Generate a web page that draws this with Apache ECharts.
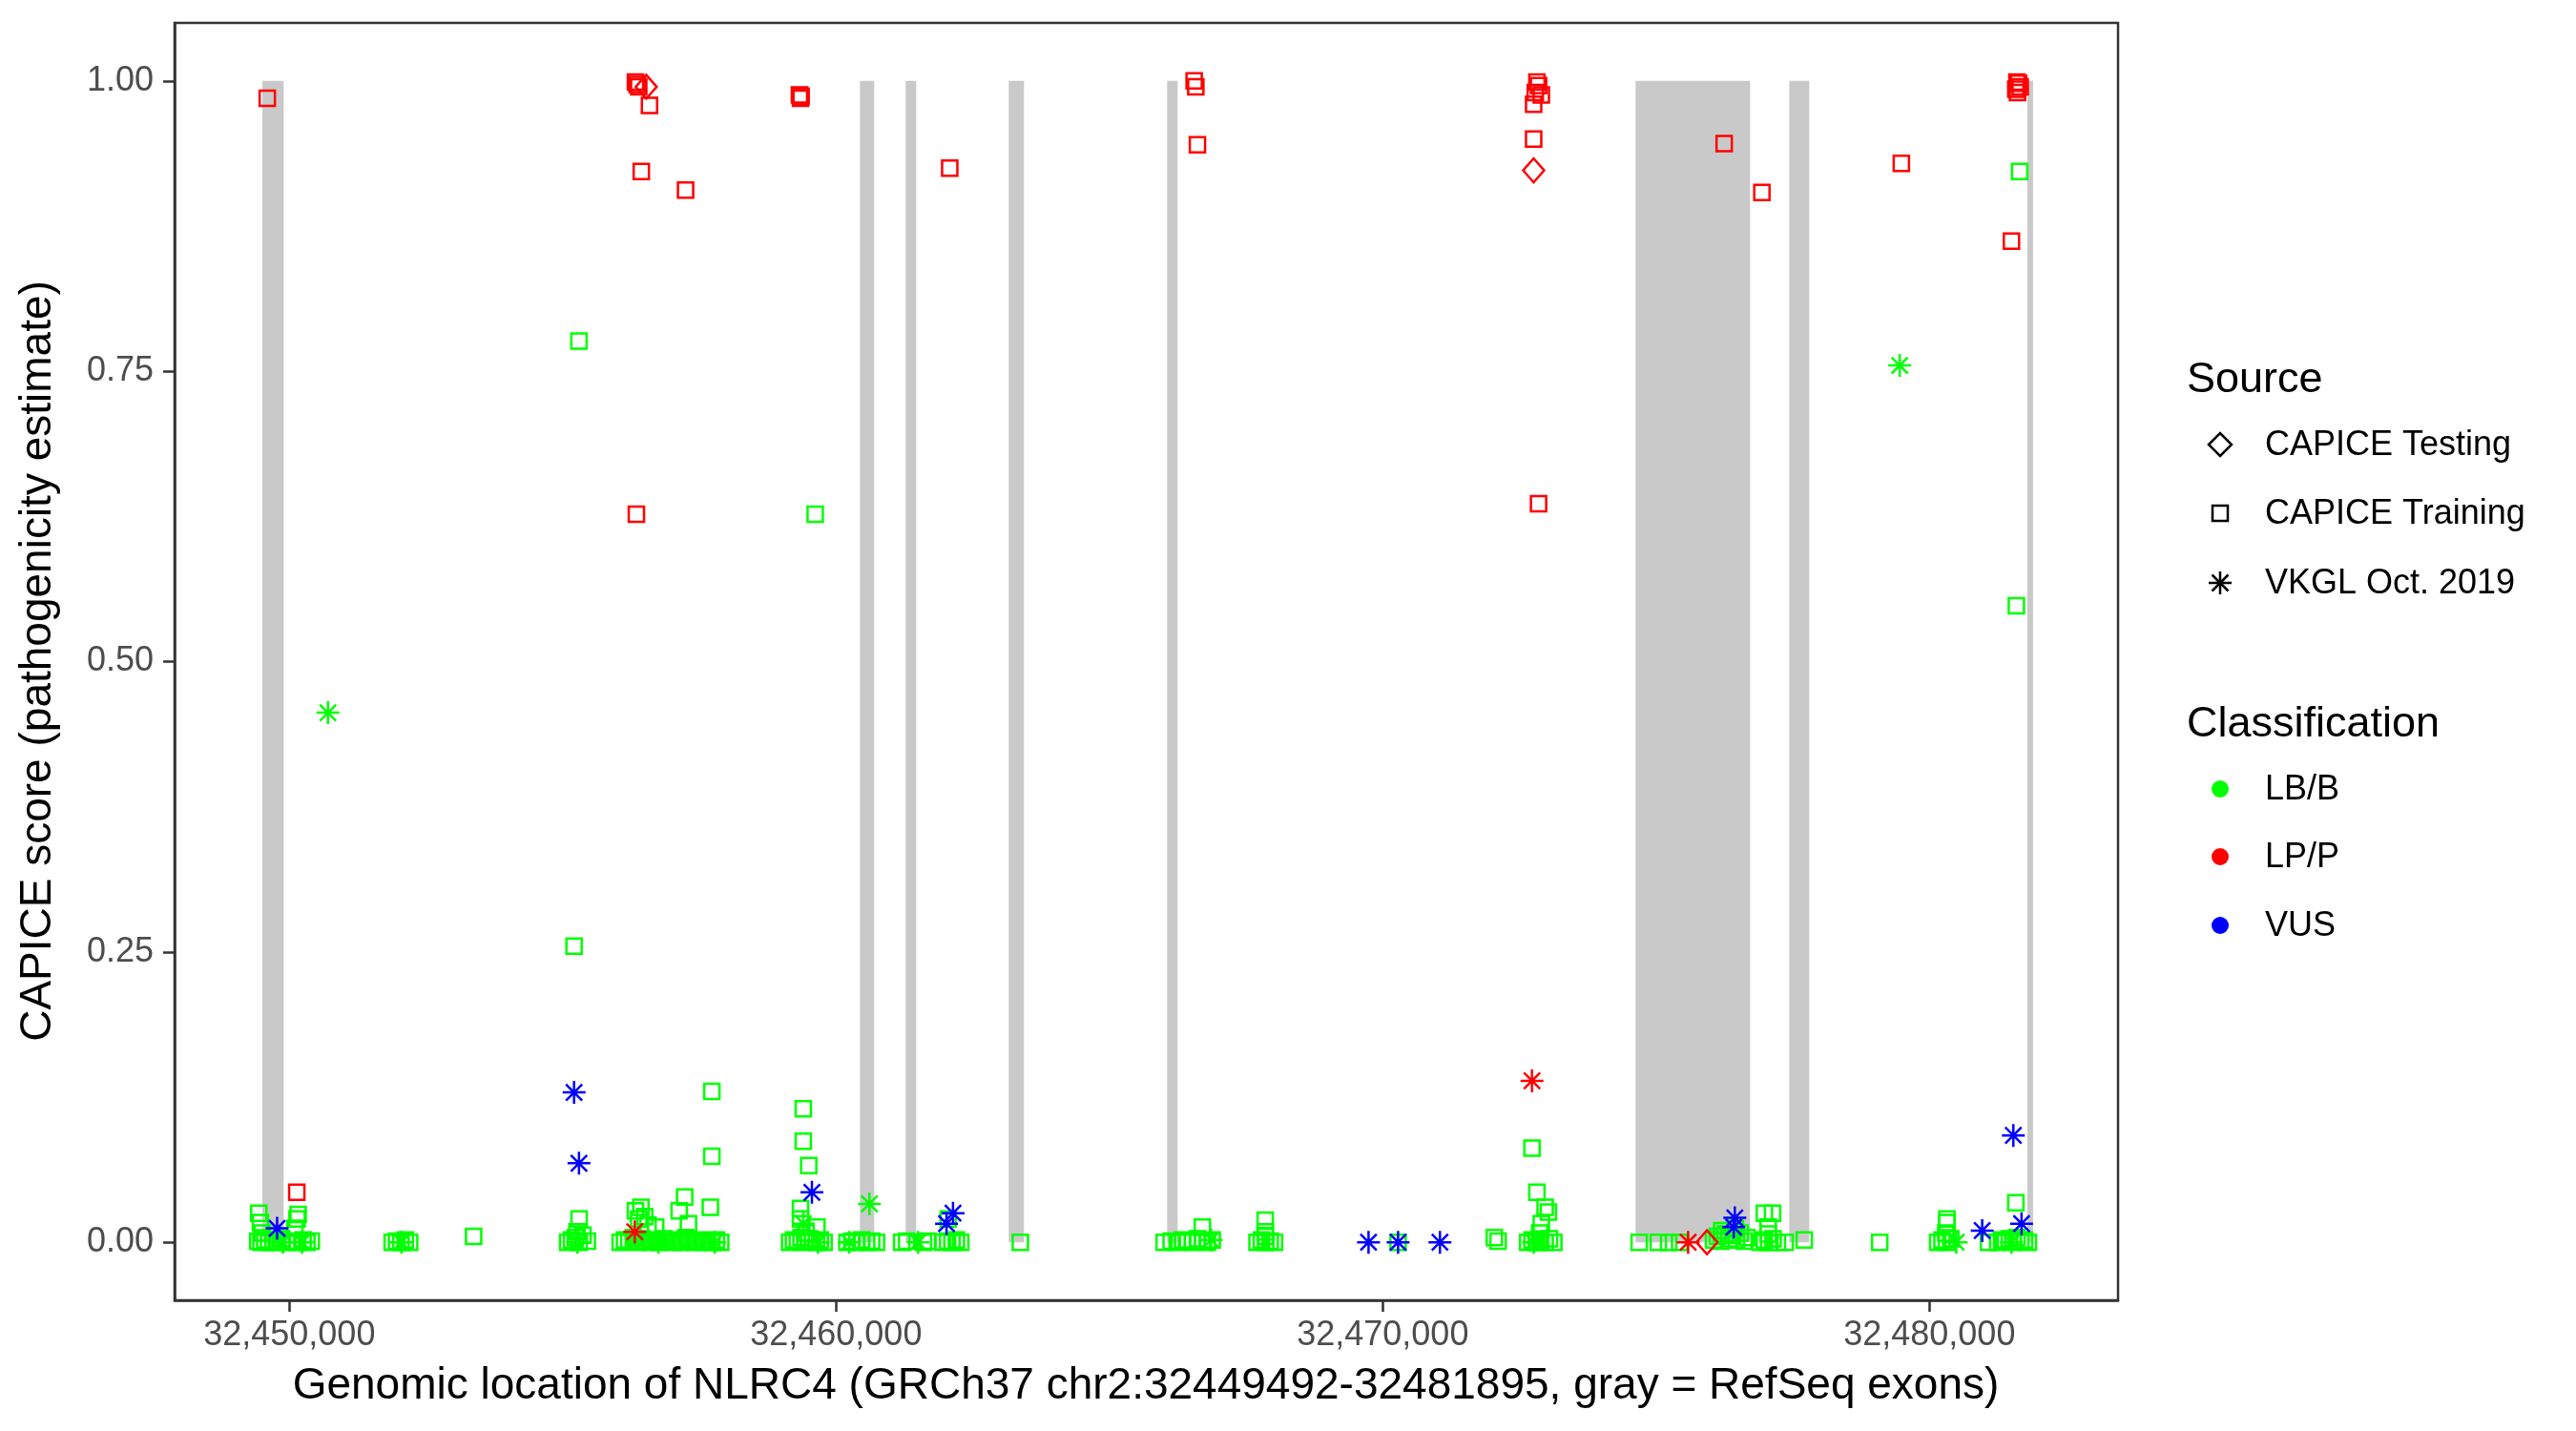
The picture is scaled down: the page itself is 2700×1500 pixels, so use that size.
<!DOCTYPE html>
<html>
<head>
<meta charset="utf-8">
<script src="https://cdn.jsdelivr.net/npm/echarts@6/dist/echarts.min.js"></script>
<style>html,body{margin:0;padding:0;background:#fff}#c{width:2700px;height:1500px}</style>
</head>
<body>
<div id="c"></div>
<script>
// ---- data ----
const xTicks = [32450000, 32460000, 32470000, 32480000];
const yTicks = [0, 0.25, 0.5, 0.75, 1];
const exonStarts = [32449505, 32460436, 32461274, 32463159, 32466056, 32474625, 32477435, 32481790];
const exonEnds   = [32449895, 32460698, 32461466, 32463438, 32466248, 32476719, 32477801, 32481895];

const trainingLB = [
[32449420,0.001],[32449480,0.000],[32449550,0.002],[32449620,0.000],[32449700,0.001],[32449780,0.000],[32449860,0.003],[32449950,0.000],[32450050,0.001],[32450150,0.000],[32450250,0.002],[32450320,0.000],[32450400,0.001],
[32449440,0.025],[32449470,0.017],[32449500,0.008],[32450140,0.020],[32450160,0.024],[32450100,0.012],
[32451880,0.000],[32451960,0.001],[32452040,0.000],[32452120,0.002],[32452200,0.000],
[32453370,0.005],
[32455090,0.000],[32455160,0.002],[32455230,0.004],[32455300,0.000],[32455370,0.006],[32455450,0.001],[32455300,0.020],[32455260,0.009],
[32455297,0.776],[32455207,0.255],
[32456050,0.000],[32456130,0.002],[32456210,0.001],[32456290,0.004],[32456370,0.000],[32456450,0.003],[32456530,0.001],[32456610,0.000],[32456690,0.002],[32456770,0.000],[32456850,0.003],[32456930,0.001],[32457010,0.000],[32457090,0.002],[32457170,0.000],[32457250,0.004],[32457330,0.001],[32457410,0.000],[32457490,0.002],[32457570,0.000],[32457650,0.001],[32457730,0.000],[32457810,0.002],[32457890,0.000],
[32456330,0.027],[32456430,0.030],[32456500,0.022],[32456560,0.015],[32456700,0.013],[32457230,0.039],[32457130,0.027],[32457300,0.016],[32457700,0.030],[32457727,0.074],[32457727,0.130],[32456390,0.020],
[32459150,0.000],[32459220,0.002],[32459290,0.001],[32459360,0.004],[32459430,0.000],[32459500,0.003],[32459570,0.001],[32459640,0.000],[32459710,0.002],[32459780,0.000],
[32459400,0.115],[32459400,0.087],[32459500,0.066],[32459350,0.029],[32459350,0.020],[32459650,0.013],[32459450,0.008],[32459618,0.627],
[32460200,0.000],[32460290,0.001],[32460380,0.000],[32460470,0.002],[32460560,0.000],[32460650,0.001],[32460740,0.000],
[32461200,0.000],[32461290,0.001],[32461600,0.000],[32461680,0.001],
[32461950,0.000],[32462040,0.001],[32462120,0.000],[32462200,0.002],[32462280,0.000],[32462050,0.020],
[32463370,0.000],
[32466000,0.000],[32466130,0.001],[32466240,0.000],[32466340,0.002],[32466430,0.001],[32466520,0.000],[32466610,0.003],[32466700,0.001],[32466790,0.000],[32466880,0.002],[32466700,0.013],
[32467700,0.000],[32467780,0.002],[32467860,0.000],[32467940,0.001],[32468020,0.000],[32467850,0.019],[32467850,0.009],[32467850,0.005],
[32470280,0.000],
[32472040,0.004],[32472110,0.001],
[32472650,0.000],[32472730,0.002],[32472810,0.000],[32472890,0.001],[32472970,0.000],[32473050,0.003],[32473130,0.000],[32472730,0.081],[32472820,0.043],[32472970,0.030],[32473030,0.026],[32472900,0.016],[32472870,0.008],
[32474690,0.000],[32475040,0.000],[32475230,0.000],[32475430,0.000],
[32476050,0.002],[32476120,0.005],[32476190,0.001],[32476260,0.007],[32476330,0.003],[32476400,0.006],[32476470,0.002],[32476540,0.008],[32476610,0.001],[32476660,0.004],[32476200,0.010],[32476450,0.012],
[32476900,0.000],[32476980,0.002],[32477060,0.000],[32477140,0.003],[32477220,0.000],[32476980,0.025],[32477130,0.025],[32477050,0.013],[32477050,0.007],
[32477360,0.000],[32477710,0.002],[32479090,0.000],
[32480150,0.000],[32480230,0.002],[32480310,0.000],[32480390,0.003],[32480320,0.017],[32480320,0.020],[32480300,0.008],
[32481080,0.000],
[32481250,0.000],[32481320,0.002],[32481390,0.001],[32481460,0.003],[32481530,0.000],[32481600,0.004],[32481670,0.001],[32481740,0.002],[32481810,0.000],[32481580,0.034],[32481650,0.922],[32481590,0.548]
];
const trainingLP = [
[32449595,0.985],[32456330,0.999],[32456360,0.997],[32456390,0.995],[32456587,0.979],[32456437,0.922],[32457247,0.906],[32456347,0.627],
[32459330,0.988],[32459360,0.987],[32459350,0.985],[32462079,0.925],[32466550,1.000],[32466580,0.995],[32466610,0.945],
[32472820,0.999],[32472850,0.996],[32472790,0.990],[32472900,0.988],[32472760,0.980],[32472760,0.950],[32472850,0.636],
[32476245,0.946],[32476935,0.904],[32479486,0.929],
[32481600,0.999],[32481630,0.998],[32481660,0.995],[32481580,0.993],[32481610,0.990],[32481500,0.862],[32450135,0.043]
];
const testingLP = [[32456527,0.995],[32472760,0.923],[32475930,0.000]];
const vkglLB = [
[32450705,0.456],[32479456,0.755],[32460610,0.033],[32449880,0.000],[32450230,0.000],[32452050,0.000],[32455270,0.000],[32456750,0.000],
[32457780,0.000],[32459670,0.000],[32459400,0.016],[32460240,0.000],[32461500,0.000],[32466860,0.002],[32472760,0.000],[32480490,0.000],[32481500,0.000]
];
const vkglLP = [[32456317,0.009],[32472730,0.139],[32475586,0.000]];
const vkglVUS = [
[32449775,0.012],[32455207,0.129],[32455297,0.068],[32459558,0.043],[32462139,0.025],[32462020,0.016],[32469740,0.000],[32470280,0.000],
[32471046,0.000],[32476440,0.021],[32476420,0.013],[32480965,0.010],[32481535,0.092],[32481685,0.016]
];

// ---- styling ----
const GREEN = '#00FF00', RED = '#FF0000', BLUE = '#0000FF';
const FONT = '"Liberation Sans", Arial, Helvetica, sans-serif';
const ASTER = 'path://M0,-10L0,10M-10,0L10,0M-7.07,-7.07L7.07,7.07M-7.07,7.07L7.07,-7.07';
const SHAPES = {
  square: {symbol: 'rect', size: 16},
  diamond: {symbol: 'diamond', size: [22, 25]},
  aster: {symbol: ASTER, size: 24}
};
function sc(name, data, shape, color, z) {
  return {
    name, type: 'scatter', data, z,
    symbol: SHAPES[shape].symbol, symbolSize: SHAPES[shape].size,
    itemStyle: {color: 'rgba(0,0,0,0)', borderColor: color, borderWidth: 2.5, opacity: 1},
    emphasis: {disabled: true}, silent: true, animation: false
  };
}
const exonAreas = exonStarts.map((s, i) => [{xAxis: s, yAxis: 0}, {xAxis: exonEnds[i], yAxis: 1}]);

const chart = echarts.init(document.getElementById('c'), null, {renderer: 'canvas'});
const L = {sx: 2327, tx: 2374, title: 2292};
const srcRows = [466, 538, 611];
const clsRows = [827, 898, 970];
const blk = {stroke: '#000', lineWidth: 2.5, fill: 'none'};
const graphic = [
  {type: 'text', x: 1201, y: 1453, style: {text: 'Genomic location of NLRC4 (GRCh37 chr2:32449492-32481895, gray = RefSeq exons)', font: '46px ' + FONT, fill: '#000', textAlign: 'center', textVerticalAlign: 'middle'}},
  {type: 'text', x: 40, y: 693, rotation: Math.PI / 2, style: {text: 'CAPICE score (pathogenicity estimate)', font: '46px ' + FONT, fill: '#000', textAlign: 'center', textVerticalAlign: 'middle'}},
  {type: 'text', x: L.title, y: 399, style: {text: 'Source', font: '45px ' + FONT, fill: '#000', textAlign: 'left', textVerticalAlign: 'middle'}},
  {type: 'text', x: L.title, y: 760, style: {text: 'Classification', font: '45px ' + FONT, fill: '#000', textAlign: 'left', textVerticalAlign: 'middle'}},
  {type: 'polygon', shape: {points: [[L.sx - 12, srcRows[0]], [L.sx, srcRows[0] - 12], [L.sx + 12, srcRows[0]], [L.sx, srcRows[0] + 12]]}, style: blk},
  {type: 'rect', shape: {x: L.sx - 8, y: srcRows[1] - 8, width: 16, height: 16}, style: blk},
  {type: 'line', shape: {x1: L.sx, y1: srcRows[2] - 12, x2: L.sx, y2: srcRows[2] + 12}, style: blk},
  {type: 'line', shape: {x1: L.sx - 12, y1: srcRows[2], x2: L.sx + 12, y2: srcRows[2]}, style: blk},
  {type: 'line', shape: {x1: L.sx - 8.5, y1: srcRows[2] - 8.5, x2: L.sx + 8.5, y2: srcRows[2] + 8.5}, style: blk},
  {type: 'line', shape: {x1: L.sx - 8.5, y1: srcRows[2] + 8.5, x2: L.sx + 8.5, y2: srcRows[2] - 8.5}, style: blk}
];
['CAPICE Testing', 'CAPICE Training', 'VKGL Oct. 2019'].forEach((t, i) => graphic.push({type: 'text', x: L.tx, y: srcRows[i] + 1, style: {text: t, font: '36px ' + FONT, fill: '#000', textAlign: 'left', textVerticalAlign: 'middle'}}));
[['LB/B', GREEN], ['LP/P', RED], ['VUS', BLUE]].forEach((t, i) => {
  graphic.push({type: 'circle', shape: {cx: L.sx, cy: clsRows[i], r: 9}, style: {fill: t[1]}});
  graphic.push({type: 'text', x: L.tx, y: clsRows[i] + 1, style: {text: t[0], font: '36px ' + FONT, fill: '#000', textAlign: 'left', textVerticalAlign: 'middle'}});
});

const axisLineStyle = {color: '#333333', width: 2.5};
chart.setOption({
  animation: false,
  backgroundColor: '#fff',
  grid: {left: 183, top: 24, right: 480, bottom: 137, show: true, borderColor: '#333333', borderWidth: 2.5, backgroundColor: 'rgba(0,0,0,0)', containLabel: false},
  xAxis: {
    type: 'value', min: 32447900, max: 32483450, position: 'bottom',
    axisLine: {show: true, onZero: false, lineStyle: axisLineStyle}, splitLine: {show: false},
    axisTick: {show: true, length: 12, lineStyle: axisLineStyle, customValues: xTicks},
    axisLabel: {customValues: xTicks, margin: 19, fontSize: 36, fontFamily: FONT, color: '#4D4D4D',
      formatter: v => Math.round(v).toLocaleString('en-US')}
  },
  yAxis: {
    type: 'value', min: -0.05, max: 1.05, position: 'left',
    axisLine: {show: true, onZero: false, lineStyle: axisLineStyle}, splitLine: {show: false},
    axisTick: {show: true, length: 12, lineStyle: axisLineStyle, customValues: yTicks},
    axisLabel: {customValues: yTicks, margin: 22, fontSize: 36, fontFamily: FONT, color: '#4D4D4D',
      formatter: v => v.toFixed(2)}
  },
  graphic,
  series: [
    {type: 'scatter', name: 'exons', data: [], z: 1, silent: true,
      markArea: {silent: true, itemStyle: {color: '#C9C9C9', opacity: 1}, data: exonAreas, emphasis: {disabled: true}}},
    sc('Training LB/B', trainingLB, 'square', GREEN, 2),
    sc('VKGL LB/B', vkglLB, 'aster', GREEN, 3),
    sc('Training LP/P', trainingLP, 'square', RED, 4),
    sc('VKGL LP/P', vkglLP, 'aster', RED, 5),
    sc('VKGL VUS', vkglVUS, 'aster', BLUE, 6),
    sc('Testing LP/P', testingLP, 'diamond', RED, 7)
  ]
});
</script>
</body>
</html>
